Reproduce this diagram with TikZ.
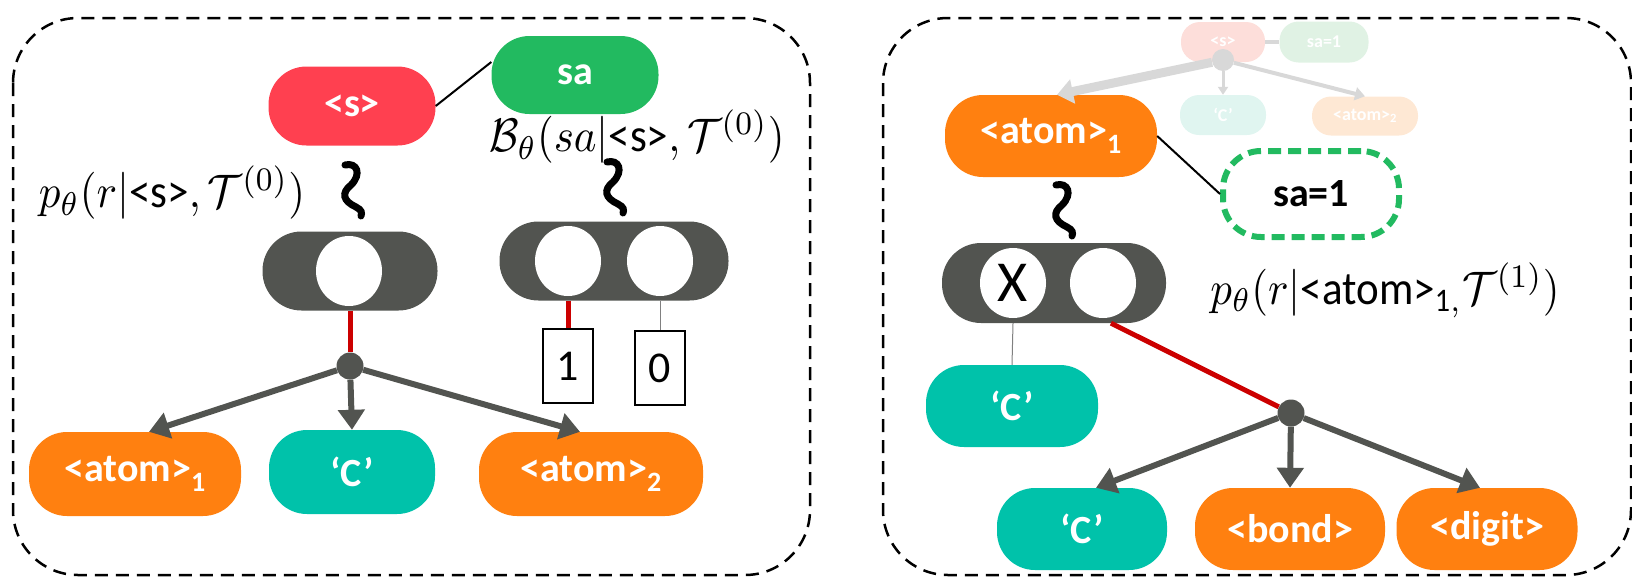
\documentclass[tikz,border=0pt]{standalone}
\usepackage{fontspec}
\newfontfamily\lbl{Carlito}
\usepackage{xcolor}
\usepackage{graphicx}
\usepackage{tikz}
\usetikzlibrary{arrows.meta,shapes.geometric}

\definecolor{tokred}{RGB}{255,64,80}
\definecolor{tokgreen}{RGB}{34,186,96}
\definecolor{tokorange}{RGB}{255,128,16}
\definecolor{tokteal}{RGB}{0,194,170}
\definecolor{capgrey}{RGB}{82,84,80}
\definecolor{pathred}{RGB}{204,0,0}
\definecolor{fadered}{RGB}{253,222,218}
\definecolor{fadegreen}{RGB}{224,242,228}
\definecolor{fadeteal}{RGB}{224,245,240}
\definecolor{fadeorange}{RGB}{254,232,212}
\definecolor{fadegrey}{RGB}{216,216,216}

\newcommand\tokfont{\lbl\bfseries\fontsize{40}{40}\selectfont}
\newcommand\faintfont{\lbl\bfseries\fontsize{18}{18}\selectfont}
\newcommand\mathlbl[1]{\scalebox{4.3}[4.7]{$#1$}}
\newcommand\subone{\mbox{\lbl\fontsize{7}{7}\selectfont 1}}

\tikzset{
  tok/.style={rounded corners=38pt,inner sep=0pt,minimum height=84pt,text=white,font=\tokfont},
  faint/.style={rounded corners=19pt,inner sep=0pt,minimum height=40pt,text=white,font=\faintfont},
  caps/.style={fill=capgrey,rounded corners=39pt,minimum height=79pt,inner sep=0pt},
  hole/.style={ellipse,fill=white,minimum width=66pt,minimum height=70pt,inner sep=0pt},
  dot/.style={circle,fill=capgrey,minimum size=27pt,inner sep=0pt},
  spawn/.style={-{Triangle[length=20pt,width=26pt]},line width=6pt,draw=capgrey},
  redpick/.style={line width=5pt,draw=pathred},
  unpicked/.style={line width=1pt,draw=gray},
  bit/.style={draw,line width=1.5pt,minimum width=50pt,minimum height=74pt,inner sep=0pt,font=\lbl\fontsize{44}{44}\selectfont},
  panel/.style={dash pattern=on 13pt off 8pt,line width=2.5pt,rounded corners=65pt},
  mlabel/.style={inner sep=0pt},
  squig/.pic={\draw[line width=7pt,line cap=round] (-7,-25) .. controls (5,-28) and (10,-16) .. (-1,-5)
     .. controls (-11,3) and (-9,11) .. (4,17) .. controls (10,20) and (10,23) .. (9,26);}
}

\begin{document}
\begin{tikzpicture}[x=1pt,y=-1pt]
\useasboundingbox (0,0) rectangle (1632,587);
% panels
\draw[panel] (13,18) rectangle (810,575);
\draw[panel] (883,18) rectangle (1631,575);

% left: root step
\node[tok,fill=tokred,minimum width=167pt,minimum height=79pt] (s) at (352,106) {<s>};
\node[tok,fill=tokgreen,minimum width=167pt,minimum height=78pt] (sa) at (575,75) {sa};
\draw[line width=2pt] (s.east) -- ([yshift=13pt]sa.west);
\node[mlabel] (blab) at (637,137) {\mathlbl{\mathcal{B}_\theta(sa|\mbox{\lbl <s>},\mathcal{T}^{(0)})}};
\node[mlabel] (plab) at (172,193) {\mathlbl{p_\theta(r|\mbox{\lbl <s>},\mathcal{T}^{(0)})}};
\pic at (352,190) {squig};
\pic at (614,187) {squig};

\node[caps,minimum width=175pt] (c1) at (350,271) {};
\node[hole] (h1) at (349,271) {};
\node[caps,minimum width=229pt] (c2) at (614,261) {};
\node[hole] (h2a) at (568,261) {};
\node[hole] (h2b) at (660,261) {};

\node[dot] (d1) at (350,366) {};
\node[bit] (b1) at (568,366) {1};
\node[bit] (b0) at (660,368) {0};
\draw[redpick] (c1.south) -- (d1);
\draw[redpick] (h2a.south |- c2.south) -- (b1.north);
\draw[unpicked] (h2b.south |- c2.south) -- (b0.north);

\node[tok,fill=tokorange,minimum width=212pt] (a1) at (135,474) {<atom>\textsubscript{1}};
\node[tok,fill=tokteal,minimum width=166pt] (cc) at (352,472) {‘C’};
\node[tok,fill=tokorange,minimum width=224pt] (a2) at (591,474) {<atom>\textsubscript{2}};
\draw[spawn] (d1) -- ([xshift=14pt]a1.north);
\draw[spawn] (d1) -- (cc.north);
\draw[spawn] (d1) -- ([xshift=-11pt]a2.north);

% right: faded previous step
\node[faint,fill=fadered,minimum width=84pt] (fs) at (1223,42) {<s>};
\node[faint,fill=fadegreen,minimum width=89pt,minimum height=41pt] (fsa) at (1324,42) {sa=1};
\node[faint,fill=fadeteal,minimum width=86pt] (fc) at (1223,115) {‘C’};
\node[faint,fill=fadeorange,minimum width=106pt,minimum height=39pt] (fa2) at (1365,116) {<atom>\textsubscript{2}};
\node[circle,fill=fadegrey,minimum size=22pt,inner sep=0pt] (fd) at (1223,60) {};
\draw[line width=4pt,draw=fadegrey] (fs.east) -- (fsa.west);

% right: current step
\node[tok,fill=tokorange,minimum width=212pt,minimum height=82pt] (ra1) at (1051,136) {<atom>\textsubscript{1}};
\node[tok,fill=white,draw=tokgreen,line width=6pt,dash pattern=on 13pt off 7pt,text=black,
  minimum width=176pt,minimum height=86pt] (rsa) at (1311,194) {sa=1};
\draw[line width=2pt] (ra1.east) -- (rsa.west);
\draw[-{Triangle[length=16pt,width=24pt]},line width=9pt,draw=fadegrey] (fd) -- ([xshift=6pt]ra1.north);
\draw[-{Triangle[length=8pt,width=10pt]},line width=3pt,draw=fadegrey] (fd) -- (fc.north);
\draw[-{Triangle[length=10pt,width=13pt]},line width=4pt,draw=fadegrey] (fd) -- (fa2.north);
\pic at (1063,210) {squig};

\node[caps,minimum width=224pt,minimum height=80pt] (c3) at (1054,283) {};
\node[hole,font=\lbl\fontsize{58}{58}\selectfont] (hx) at (1013,283) {X};
\node[hole] (hy) at (1103,283) {};
\node[mlabel] (prlab) at (1385,290) {\mathlbl{p_\theta(r|\mbox{\lbl <atom>}_{\subone,}\mathcal{T}^{(1)})}};

\node[tok,fill=tokteal,minimum width=172pt,minimum height=82pt] (rc) at (1012,406) {‘C’};
\node[dot] (d2) at (1291,413) {};
\draw[unpicked] (hx.south |- c3.south) -- (rc.north);
\draw[redpick] ([xshift=8pt]hy.south |- c3.south) -- (d2);

\node[tok,fill=tokteal,minimum width=170pt,minimum height=82pt] (rc2) at (1082,529) {‘C’};
\node[tok,fill=tokorange,minimum width=190pt,minimum height=82pt] (bond) at (1290,529) {<bond>};
\node[tok,fill=tokorange,minimum width=181pt,minimum height=82pt] (digit) at (1487,529) {<digit>};
\draw[spawn] (d2) -- ([xshift=14pt]rc2.north);
\draw[spawn] (d2) -- (bond.north);
\draw[spawn] (d2) -- ([xshift=-7pt]digit.north);
\end{tikzpicture}
\end{document}
